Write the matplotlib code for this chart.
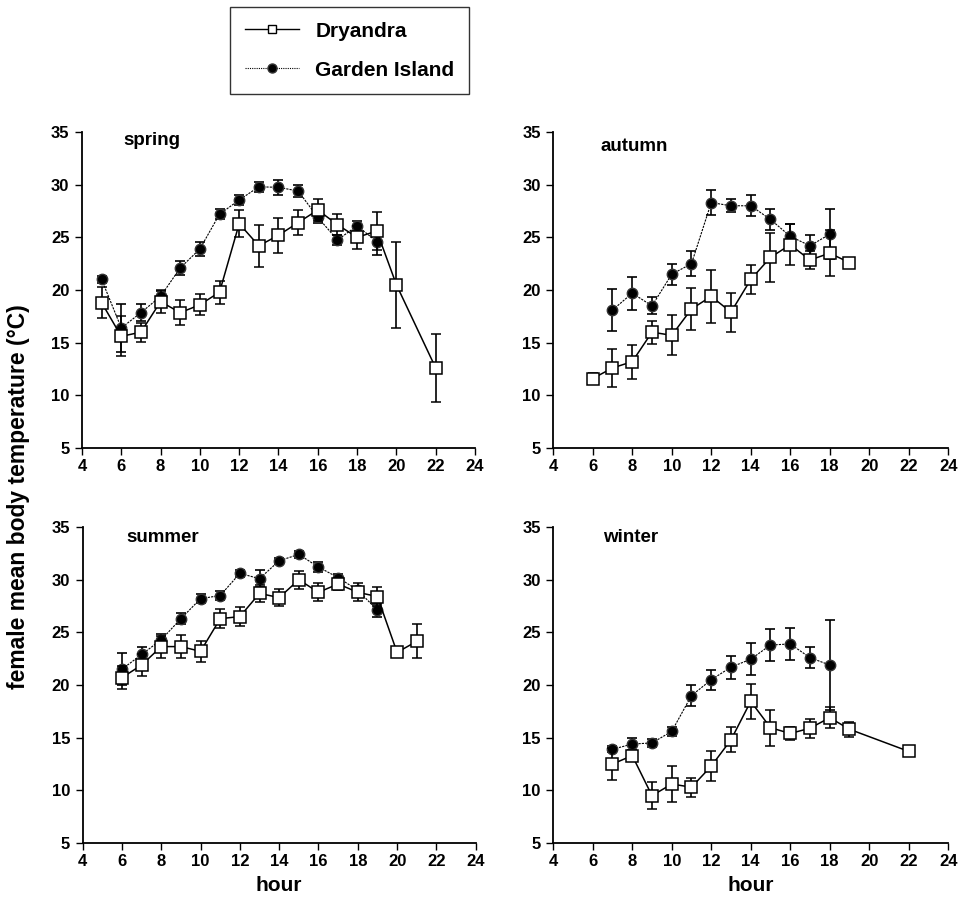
import matplotlib
matplotlib.use("Agg")
import matplotlib.pyplot as plt
from matplotlib.lines import Line2D

plt.rcParams['font.family'] = ['Liberation Sans', 'DejaVu Sans']
plt.rcParams['font.weight'] = 'bold'

seasons = ["spring", "autumn", "summer", "winter"]

# Dryandra: hour, mean, error
dry_hours = {
    "spring": [5, 6, 7, 8, 9, 10, 11, 12, 13, 14, 15, 16, 17, 18, 19, 20, 22],
    "autumn": [6, 7, 8, 9, 10, 11, 12, 13, 14, 15, 16, 17, 18, 19],
    "summer": [6, 7, 8, 9, 10, 11, 12, 13, 14, 15, 16, 17, 18, 19, 20, 21],
    "winter": [7, 8, 9, 10, 11, 12, 13, 14, 15, 16, 17, 18, 19, 22],
}
dry_mean = {
    "spring": [18.8, 15.6, 16.0, 18.9, 17.85, 18.6, 19.8, 26.3, 24.2, 25.2, 26.4, 27.6, 26.2, 25.0, 25.6, 20.5, 12.6],
    "autumn": [11.6, 12.6, 13.2, 16.0, 15.7, 18.2, 19.4, 17.9, 21.0, 23.1, 24.3, 22.85, 23.5, 22.6],
    "summer": [20.7, 21.9, 23.65, 23.65, 23.2, 26.3, 26.5, 28.7, 28.3, 30.0, 28.8, 29.6, 28.8, 28.4, 23.1, 24.15],
    "winter": [12.5, 13.3, 9.5, 10.6, 10.3, 12.3, 14.8, 18.45, 15.95, 15.4, 15.9, 16.9, 15.8, 13.7],
}
dry_err = {
    "spring": [1.5, 1.9, 0.9, 1.1, 1.2, 1.0, 1.1, 1.3, 2.0, 1.65, 1.2, 1.0, 1.0, 1.1, 1.8, 4.1, 3.2],
    "autumn": [0.5, 1.8, 1.6, 1.1, 1.9, 2.0, 2.5, 1.85, 1.35, 2.3, 1.95, 0.9, 2.2, 0.0],
    "summer": [1.1, 1.0, 1.05, 1.1, 1.0, 0.9, 0.9, 0.8, 0.8, 0.85, 0.85, 0.6, 0.85, 0.9, 0.0, 1.6],
    "winter": [1.5, 0.3, 1.3, 1.75, 0.9, 1.45, 1.2, 1.65, 1.7, 0.6, 0.9, 1.0, 0.7, 0.0],
}

# Garden Island: hour, mean, error
gi_hours = {
    "spring": [5, 6, 7, 8, 9, 10, 11, 12, 13, 14, 15, 16, 17, 18, 19],
    "autumn": [7, 8, 9, 10, 11, 12, 13, 14, 15, 16, 17, 18],
    "summer": [6, 7, 8, 9, 10, 11, 12, 13, 14, 15, 16, 17, 18, 19],
    "winter": [7, 8, 9, 10, 11, 12, 13, 14, 15, 16, 17, 18],
}
gi_mean = {
    "spring": [21.0, 16.4, 17.85, 19.4, 22.1, 23.9, 27.2, 28.55, 29.8, 29.75, 29.4, 26.9, 24.75, 26.1, 24.6],
    "autumn": [18.1, 19.7, 18.5, 21.5, 22.5, 28.3, 28.0, 28.0, 26.7, 25.1, 24.2, 25.3],
    "summer": [21.5, 22.9, 24.3, 26.3, 28.2, 28.5, 30.6, 30.1, 31.8, 32.4, 31.2, 30.2, 29.0, 27.1],
    "winter": [13.9, 14.4, 14.5, 15.6, 19.0, 20.5, 21.7, 22.45, 23.8, 23.9, 22.6, 21.9],
}
gi_err = {
    "spring": [0.3, 2.3, 0.8, 0.5, 0.7, 0.7, 0.5, 0.5, 0.5, 0.7, 0.6, 0.5, 0.5, 0.5, 1.3],
    "autumn": [1.95, 1.55, 0.8, 1.0, 1.2, 1.2, 0.6, 1.0, 1.0, 1.2, 1.05, 2.4],
    "summer": [1.5, 0.7, 0.5, 0.5, 0.4, 0.4, 0.3, 0.8, 0.3, 0.3, 0.5, 0.3, 0.3, 0.6],
    "winter": [0.3, 0.6, 0.4, 0.4, 1.0, 0.95, 1.1, 1.5, 1.5, 1.5, 1.0, 4.3],
}

x_ticks = [4, 6, 8, 10, 12, 14, 16, 18, 20, 22, 24]
y_ticks = [5, 10, 15, 20, 25, 30, 35]

fig = plt.figure(figsize=(9.61, 9.0), dpi=100)

# axes boxes in figure fractions: left, bottom, width, height
boxes = {
    "spring": [0.0853, 0.5022, 0.4090, 0.3511],
    "autumn": [0.5757, 0.5022, 0.4110, 0.3511],
    "summer": [0.0860, 0.0633, 0.4090, 0.3511],
    "winter": [0.5757, 0.0633, 0.4110, 0.3511],
}
title_pos = {"spring": (6.1, 34.2), "autumn": (6.4, 33.6), "summer": (6.25, 34.0), "winter": (6.5, 34.0)}

for s in seasons:
    ax = fig.add_axes(boxes[s])
    ax.errorbar(gi_hours[s], gi_mean[s], yerr=gi_err[s], color='black', ecolor='black',
                linestyle=(0, (2, 1)), linewidth=0.8, elinewidth=1.2, capsize=3.5, capthick=1.2,
                marker='o', markersize=7.5, markerfacecolor='black', markeredgecolor='#333333', zorder=2)
    ax.errorbar(dry_hours[s], dry_mean[s], yerr=dry_err[s], color='black', ecolor='black',
                linestyle='-', linewidth=1.1, elinewidth=1.2, capsize=3.5, capthick=1.2,
                marker='s', markersize=8, markerfacecolor='white', markeredgecolor='black',
                markeredgewidth=1.1, zorder=3)
    ax.set_xlim(4, 24)
    ax.set_ylim(5, 35)
    ax.set_xticks(x_ticks)
    ax.set_yticks(y_ticks)
    ax.tick_params(direction='out', length=5, width=1, labelsize=12)
    ax.tick_params(axis='y', pad=4)
    ax.tick_params(axis='x', pad=3)
    for lab in ax.get_xticklabels() + ax.get_yticklabels():
        lab.set_fontweight('bold')
    ax.spines['top'].set_visible(False)
    ax.spines['right'].set_visible(False)
    ax.spines['left'].set_linewidth(1.3)
    ax.spines['bottom'].set_linewidth(1.3)
    ax.spines['bottom'].set_zorder(5)
    ax.text(title_pos[s][0], title_pos[s][1], s, fontsize=13.5, fontweight='bold', va='center', ha='left')
    if s in ("summer", "winter"):
        ax.set_xlabel("hour", fontsize=15, fontweight='bold', labelpad=5)

fig.text(0.019, 0.448, "female mean body temperature (°C)", rotation=90, fontsize=16.5,
         fontweight='bold', ha='center', va='center')

handles = [
    Line2D([], [], color='black', linestyle='-', linewidth=1.0, marker='s', markersize=6,
           markerfacecolor='white', markeredgecolor='black'),
    Line2D([], [], color='black', linestyle=(0, (1, 1)), linewidth=0.8, marker='o', markersize=6.5,
           markerfacecolor='black', markeredgecolor='#333333'),
]
leg = fig.legend(handles, ["Dryandra", "Garden Island"], loc='upper left',
                 bbox_to_anchor=(0.2393, 0.992), frameon=True, fancybox=False,
                 prop={'weight': 'bold', 'size': 15}, handlelength=2.6, handletextpad=0.8,
                 borderpad=0.7, labelspacing=0.95, borderaxespad=0)
leg.get_frame().set_edgecolor('black')
leg.get_frame().set_linewidth(1.0)

fig.savefig("out.png", dpi=100)
